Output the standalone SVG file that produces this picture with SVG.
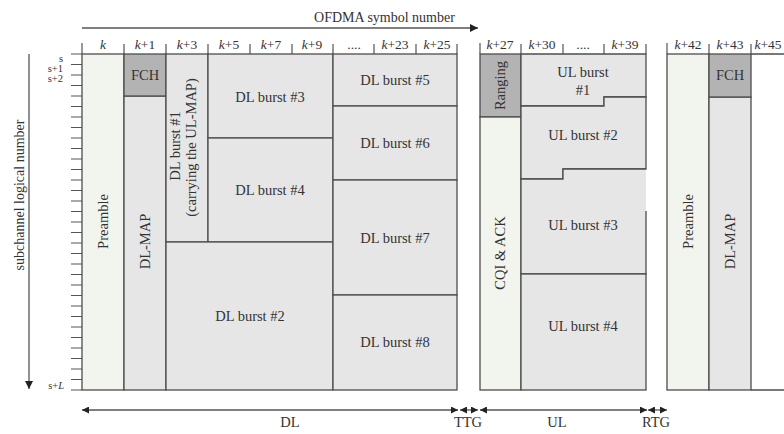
<svg xmlns="http://www.w3.org/2000/svg" width="784" height="434" viewBox="0 0 784 434">
<defs>
<style>
text{font-family:"Liberation Serif","Times New Roman",serif;fill:#333;}
.lbl{font-size:14.5px;text-anchor:middle;}
.hdr{font-size:13.5px;text-anchor:middle;}
.sm{font-size:10.5px;text-anchor:end;}
.cell{stroke:#4d4d4d;stroke-width:1.3;}
.pre{fill:#f2f5ee;}
.gry{fill:#e6e6e6;}
.drk{fill:#b3b3b3;}
.ln{stroke:#4d4d4d;stroke-width:1.3;fill:none;}
.tk{stroke:#555;stroke-width:1.2;fill:none;}
.arr{stroke:#555;stroke-width:1.3;fill:none;marker-start:url(#ah);marker-end:url(#ah);}
</style>
<marker id="ah" viewBox="0 0 8 8" refX="8" refY="4" markerWidth="7" markerHeight="7" markerUnits="userSpaceOnUse" orient="auto-start-reverse">
<path d="M0,0 L8,4 L0,8 Z" fill="#222"/>
</marker>
<marker id="ah2" viewBox="0 0 8 8" refX="8" refY="4" markerWidth="8" markerHeight="8" markerUnits="userSpaceOnUse" orient="auto">
<path d="M0,0 L8,4 L0,8 Z" fill="#222"/>
</marker>
</defs>
<rect width="784" height="434" fill="#fff"/>

<!-- axes and labels -->
<g id="axes">
<text x="384.5" y="22" font-size="14px" text-anchor="middle">OFDMA symbol number</text>
<text transform="translate(24,195) rotate(-90)" font-size="14px" text-anchor="middle">subchannel logical number</text>
<text class="sm" x="63" y="62">s</text>
<text class="sm" x="63" y="71.5">s+1</text>
<text class="sm" x="63" y="81.5">s+2</text>
<text class="sm" x="64" y="389">s+<tspan font-style="italic">L</tspan></text>
<g class="hdr">
<text class="hdr" x="103" y="48.5"><tspan font-style="italic">k</tspan></text>
<text class="hdr" x="145" y="48.5"><tspan font-style="italic">k</tspan>+1</text>
<text class="hdr" x="187" y="48.5"><tspan font-style="italic">k</tspan>+3</text>
<text class="hdr" x="229" y="48.5"><tspan font-style="italic">k</tspan>+5</text>
<text class="hdr" x="271" y="48.5"><tspan font-style="italic">k</tspan>+7</text>
<text class="hdr" x="312" y="48.5"><tspan font-style="italic">k</tspan>+9</text>
<text class="hdr" x="354" y="48.5">....</text>
<text class="hdr" x="395" y="48.5"><tspan font-style="italic">k</tspan>+23</text>
<text class="hdr" x="437" y="48.5"><tspan font-style="italic">k</tspan>+25</text>
<text class="hdr" x="500" y="48.5"><tspan font-style="italic">k</tspan>+27</text>
<text class="hdr" x="542" y="48.5"><tspan font-style="italic">k</tspan>+30</text>
<text class="hdr" x="583" y="48.5">....</text>
<text class="hdr" x="625" y="48.5"><tspan font-style="italic">k</tspan>+39</text>
<text class="hdr" x="688" y="48.5"><tspan font-style="italic">k</tspan>+42</text>
<text class="hdr" x="730" y="48.5"><tspan font-style="italic">k</tspan>+43</text>
<text class="hdr" x="768" y="48.5"><tspan font-style="italic">k</tspan>+45</text>
</g>
<path class="tk" d="M82,43V54 M124,44V54 M166,44V54 M208,44V54 M250,44V54 M292,44V54 M333,44V54 M374,44V54 M416,44V54 M457,44V54 M480,43V54 M521,44V54 M563,44V54 M604,44V54 M646,44V54 M667,43V54 M709,44V54 M751,44V54"/>
<path class="tk" d="M71,54H82 M71,64.5H82 M71,75H82 M71,85.5H82 M71,96H82 M71,106.5H82 M71,117H82 M71,127.5H82 M71,138H82 M71,148.5H82 M71,159H82 M71,169.5H82 M71,180H82 M71,190.5H82 M71,201H82 M71,211.5H82 M71,222H82 M71,232.5H82 M71,243H82 M71,253.5H82 M71,264H82 M71,274.5H82 M71,285H82 M71,295.5H82 M71,306H82 M71,316.5H82 M71,327H82 M71,337.5H82 M71,348H82 M71,358.5H82 M71,369H82 M71,379.5H82 M71,390H82"/>
<text class="lbl" x="290" y="427">DL</text>
<text class="lbl" x="468" y="427">TTG</text>
<text class="lbl" x="557" y="427">UL</text>
<text class="lbl" x="656" y="427">RTG</text>
</g>

<!-- frame 1 (DL) -->
<g id="preamble1"><rect class="cell pre" x="82" y="54" width="42" height="336"/><text class="lbl" transform="translate(108,221.5) rotate(-90)">Preamble</text></g>
<g id="dlmap1"><rect class="cell gry" x="124" y="96" width="42" height="294"/><text class="lbl" transform="translate(150,241.5) rotate(-90)">DL-MAP</text></g>
<g id="fch1"><rect class="cell drk" x="124" y="54" width="42" height="42"/><text class="lbl" x="145" y="80">FCH</text></g>
<g id="dlburst1"><rect class="cell gry" x="166" y="54" width="42" height="188"/><text class="lbl" transform="translate(180,146) rotate(-90)">DL burst #1</text><text class="lbl" transform="translate(196,147.5) rotate(-90)">(carrying the UL-MAP)</text></g>
<g id="dlburst3"><rect class="cell gry" x="208" y="54" width="125" height="84"/><text class="lbl" x="270" y="102">DL burst #3</text></g>
<g id="dlburst4"><rect class="cell gry" x="208" y="138" width="125" height="104"/><text class="lbl" x="270" y="195">DL burst #4</text></g>
<g id="dlburst2"><rect class="cell gry" x="166" y="242" width="167" height="148"/><text class="lbl" x="250" y="321">DL burst #2</text></g>
<g id="dlburst5"><rect class="cell gry" x="333" y="54" width="124" height="52"/><text class="lbl" x="395" y="85">DL burst #5</text></g>
<g id="dlburst6"><rect class="cell gry" x="333" y="106" width="124" height="74"/><text class="lbl" x="395" y="148">DL burst #6</text></g>
<g id="dlburst7"><rect class="cell gry" x="333" y="180" width="124" height="115"/><text class="lbl" x="395" y="243">DL burst #7</text></g>
<g id="dlburst8"><rect class="cell gry" x="333" y="295" width="124" height="95"/><text class="lbl" x="395" y="347">DL burst #8</text></g>

<!-- UL subframe -->
<g id="ranging"><rect class="cell drk" x="480" y="54" width="41" height="63"/><text class="lbl" transform="translate(505,85.5) rotate(-90)">Ranging</text></g>
<g id="cqiack"><rect class="cell pre" x="480" y="117" width="41" height="273"/><text class="lbl" transform="translate(505,253) rotate(-90)">CQI &amp; ACK</text></g>
<g id="ulburst1"><path class="cell gry" d="M521,54H646V97H604V106H521Z"/><text class="lbl" x="583" y="77">UL burst</text><text class="lbl" x="583" y="95">#1</text></g>
<g id="ulburst2"><path class="cell gry" d="M521,106H604V97H646V169H563V179H521Z"/><text class="lbl" x="583" y="140">UL burst #2</text></g>
<g id="ulburst3"><path class="gry" d="M521,179H563V169H646V274H521Z"/><path class="ln" d="M646,211V274H521V179H563V169H646"/><text class="lbl" x="583" y="230">UL burst #3</text></g>
<g id="ulburst4"><rect class="cell gry" x="521" y="274" width="125" height="116"/><text class="lbl" x="583" y="331">UL burst #4</text></g>

<!-- frame 2 -->
<g id="preamble2"><rect class="cell pre" x="667" y="54" width="42" height="336"/><text class="lbl" transform="translate(693,221.5) rotate(-90)">Preamble</text></g>
<g id="dlmap2"><rect class="cell gry" x="709" y="97" width="42" height="293"/><text class="lbl" transform="translate(735,241.5) rotate(-90)">DL-MAP</text></g>
<g id="fch2"><rect class="cell drk" x="709" y="54" width="42" height="43"/><text class="lbl" x="730" y="80">FCH</text></g>
<g id="frame2rest"><path class="ln" d="M751,54H785 M751,390H785"/></g>

<!-- connectors -->
<g id="connectors">
<path d="M82,28H478" stroke="#555" stroke-width="1.3" fill="none" marker-end="url(#ah2)"/>
<path d="M29,54V389" stroke="#555" stroke-width="1.3" fill="none" marker-end="url(#ah2)"/>
<path class="arr" d="M82,410H458"/>
<path class="arr" d="M460,410H478"/>
<path class="arr" d="M480,410H647"/>
<path class="arr" d="M648,410H667"/>
</g>
</svg>
